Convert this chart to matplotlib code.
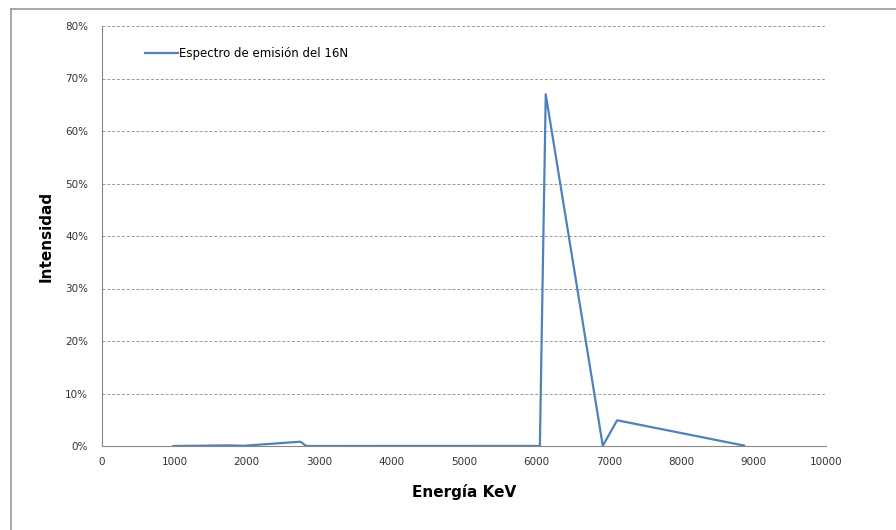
import matplotlib.pyplot as plt
from matplotlib.lines import Line2D
from matplotlib.ticker import FuncFormatter

# datos del espectro (energía en keV, intensidad en %)
energia = [986, 1755, 1955, 2741, 2822, 6048, 6129, 6917, 7115, 8869]
intensidad = [0.0, 0.12, 0.04, 0.82, 0.0, 0.01, 67.0, 0.04, 4.9, 0.08]
serie = 'Espectro de emisión del 16N'

fig = plt.figure(figsize=(8.96, 5.30), dpi=100)
ax = fig.add_axes([102/896, 84/530, 724/896, 420/530])

ax.plot(energia, intensidad, color='#4F81BD', lw=1.6, label=serie)

ax.set_xlim(0, 10000)
ax.set_ylim(0, 80)
ax.set_xticks(range(0, 10001, 1000))
ax.set_yticks(range(0, 81, 10))
ax.yaxis.set_major_formatter(FuncFormatter(lambda v, p: f'{v:.0f}%'))
ax.tick_params(length=0, labelsize=7.5, colors='#333333', pad=8)
ax.tick_params(axis='y', pad=10)

ax.grid(axis='y', linestyle=(0, (3, 2)), color='#999999', lw=0.7)
ax.set_axisbelow(True)
for s in ['top', 'right']:
    ax.spines[s].set_visible(False)
for s in ['left', 'bottom']:
    ax.spines[s].set_color('#888888')

ax.set_xlabel('Energía KeV', fontsize=11, fontweight='bold', labelpad=12)
ax.set_ylabel('Intensidad', fontsize=11, fontweight='bold', labelpad=8)

ax.legend(loc='upper left', bbox_to_anchor=(0.045, 0.975), frameon=False,
          fontsize=8.5, handlelength=2.8, handletextpad=0.1)

# marco del gráfico
fig.add_artist(Line2D([11/896, 1], [1 - 9/530, 1 - 9/530], color='#999999', lw=1.2))
fig.add_artist(Line2D([11/896, 11/896], [0, 1 - 9/530], color='#999999', lw=1.2))

fig.savefig('out.png', dpi=100)
